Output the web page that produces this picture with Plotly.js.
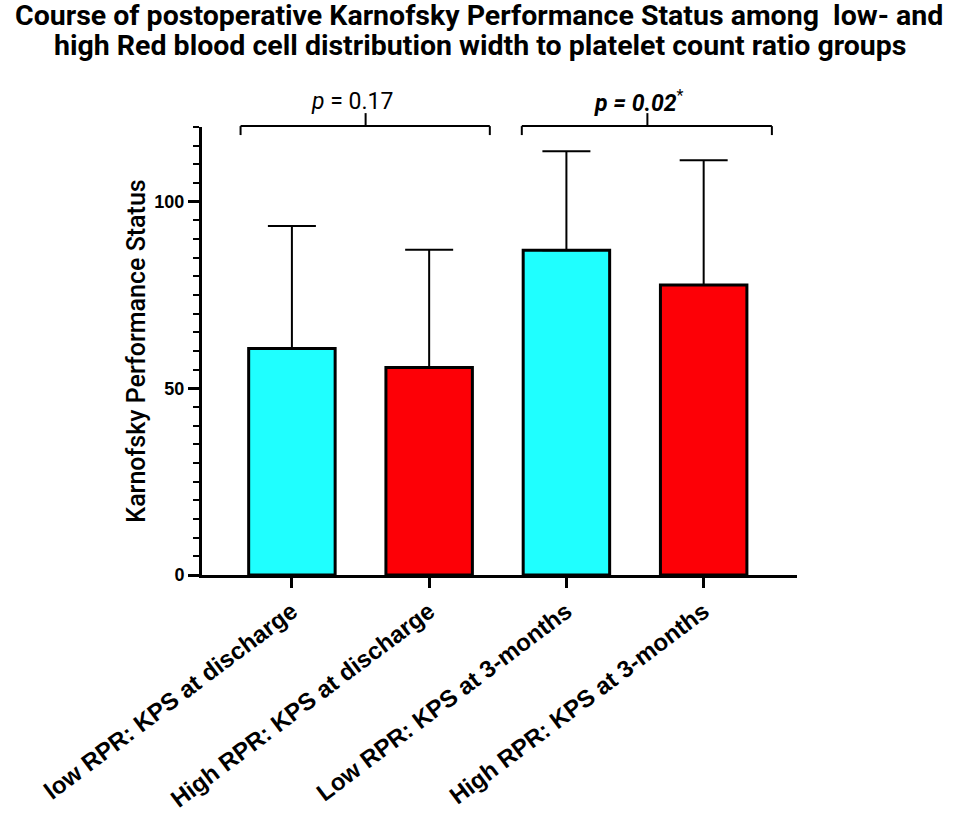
<!DOCTYPE html>
<html>
<head>
<meta charset="utf-8">
<script src="https://cdn.plot.ly/plotly-3.0.1.min.js"></script>
<style>html,body{margin:0;padding:0;background:#fff;}#chart{width:957px;height:816px;}</style>
</head>
<body>
<div id="chart"></div>
<script>
var categories = ["low RPR: KPS at discharge", "High RPR: KPS at discharge", "Low RPR: KPS at 3-months", "High RPR: KPS at 3-months"];
var meanKPS = [60.7, 55.6, 87.0, 77.7];
var sdKPS = [32.8, 31.5, 26.5, 33.4];
var barColors = ["#1fffff", "#fd0006", "#1fffff", "#fd0006"];
var yTickVals = [0, 50, 100];
var pLabels = ["<i>p</i> = 0.17", "<b><i>p = 0.02</i></b><sup>*</sup>"];
var titleLines = ["Course of postoperative Karnofsky Performance Status among  low- and", "high Red blood cell distribution width to platelet count ratio groups"];

var trace = {
  type: "bar",
  x: categories.map(function (c, i) { return i; }),
  y: meanKPS,
  width: 0.63,
  marker: { color: barColors, line: { color: "#000", width: 3 } },
  error_y: { type: "data", symmetric: false, array: sdKPS, arrayminus: sdKPS.map(function () { return 0; }), color: "#000", thickness: 2, width: 24 },
  hoverinfo: "skip"
};

function bracket(x0, x1, xc) {
  return [
    { type: "line", xref: "x", yref: "paper", x0: x0, x1: x1, y0: 1.002, y1: 1.002, line: { color: "#000", width: 2 } },
    { type: "line", xref: "x", yref: "paper", x0: x0, x1: x0, y0: 1.002, y1: 0.982, line: { color: "#000", width: 2 } },
    { type: "line", xref: "x", yref: "paper", x0: x1, x1: x1, y0: 1.002, y1: 0.982, line: { color: "#000", width: 2 } },
    { type: "line", xref: "x", yref: "paper", x0: xc, x1: xc, y0: 1.002, y1: 1.031, line: { color: "#000", width: 2 } }
  ];
}

var titleFont = { family: "Roboto", size: 28.5, color: "#000", weight: "bold" };

var layout = {
  width: 957, height: 816,
  margin: { l: 202, r: 160, t: 127, b: 241 },
  paper_bgcolor: "#fff", plot_bgcolor: "#fff",
  showlegend: false,
  xaxis: {
    range: [-0.655, 3.68],
    tickmode: "array",
    tickvals: [0, 1, 2, 3],
    ticktext: categories,
    tickangle: -37,
    ticks: "outside", ticklen: 10, tickwidth: 3, tickcolor: "#000",
    showline: true, linecolor: "#000", linewidth: 3,
    showgrid: false, zeroline: false,
    tickfont: { family: "Liberation Sans, Arial", size: 24, color: "#000", weight: "bold" },
    fixedrange: true
  },
  yaxis: {
    range: [0, 120],
    tickmode: "array",
    tickvals: yTickVals,
    ticks: "outside", ticklen: 11, tickwidth: 3, tickcolor: "#000",
    minor: { dtick: 5, ticks: "outside", ticklen: 6, tickwidth: 2, tickcolor: "#000", showgrid: false },
    showline: true, linecolor: "#000", linewidth: 3,
    showgrid: false, zeroline: false,
    tickfont: { family: "Liberation Sans, Arial", size: 18, color: "#000", weight: "bold" },
    title: { text: "Karnofsky Performance Status", font: { family: "Roboto", size: 25, color: "#000", weight: 500 }, standoff: 2 },
    fixedrange: true
  },
  shapes: [].concat(bracket(-0.374, 1.442, 0.537), bracket(1.675, 3.497, 2.59)),
  annotations: [
    { text: titleLines[0], xref: "paper", yref: "paper", x: 0.465, y: 1.248, xanchor: "center", yanchor: "middle", showarrow: false, font: titleFont },
    { text: titleLines[1], xref: "paper", yref: "paper", x: 0.468, y: 1.183, xanchor: "center", yanchor: "middle", showarrow: false, font: titleFont },
    { text: pLabels[0], xref: "x", yref: "paper", x: 0.437, y: 1.056, xanchor: "center", yanchor: "middle", showarrow: false, font: { family: "Roboto", size: 23, color: "#000" } },
    { text: pLabels[1], xref: "x", yref: "paper", x: 2.53, y: 1.056, xanchor: "center", yanchor: "middle", showarrow: false, font: { family: "Roboto", size: 23, color: "#000" } }
  ]
};

Plotly.newPlot("chart", [trace], layout, { displayModeBar: false, staticPlot: true });
</script>
</body>
</html>
